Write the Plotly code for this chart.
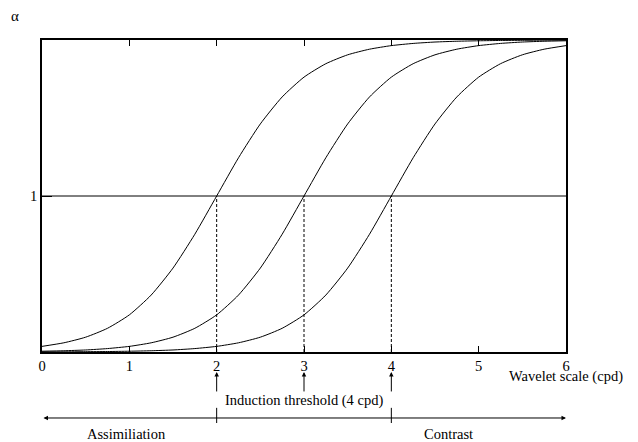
import plotly.graph_objects as go

# ---- data ----
x_vals = [0, 0.25, 0.5, 0.75, 1, 1.25, 1.5, 1.75, 2, 2.25, 2.5, 2.75, 3,
          3.25, 3.5, 3.75, 4, 4.25, 4.5, 4.75, 5, 5.25, 5.5, 5.75, 6]

curve_2cpd = [0.036, 0.059, 0.095, 0.152, 0.238, 0.365, 0.538, 0.755, 1.0,
              1.245, 1.462, 1.635, 1.762, 1.848, 1.905, 1.941, 1.964, 1.978,
              1.987, 1.992, 1.995, 1.997, 1.998, 1.999, 1.999]
curve_3cpd = [0.005, 0.008, 0.013, 0.022, 0.036, 0.059, 0.095, 0.152, 0.238,
              0.365, 0.538, 0.755, 1.0, 1.245, 1.462, 1.635, 1.762, 1.848,
              1.905, 1.941, 1.964, 1.978, 1.987, 1.992, 1.995]
curve_4cpd = [0.001, 0.001, 0.002, 0.003, 0.005, 0.008, 0.013, 0.022, 0.036,
              0.059, 0.095, 0.152, 0.238, 0.365, 0.538, 0.755, 1.0, 1.245,
              1.462, 1.635, 1.762, 1.848, 1.905, 1.941, 1.964]

thresholds = [2, 3, 4]
unity_level = 1
x_ticks = [0, 1, 2, 3, 4, 5, 6]
y_ticks = [1]
x_range = [0, 6]
y_range = [0, 2]

FONT = "Liberation Serif, Times New Roman, serif"
FS = 14.5

fig = go.Figure()

for ys in (curve_2cpd, curve_3cpd, curve_4cpd):
    fig.add_trace(go.Scatter(x=x_vals, y=ys, mode="lines",
                             line=dict(color="black", width=1, shape="spline", smoothing=0.6),
                             showlegend=False, hoverinfo="skip"))

# horizontal line at alpha = 1
fig.add_trace(go.Scatter(x=x_range, y=[unity_level, unity_level], mode="lines",
                         line=dict(color="black", width=1), showlegend=False, hoverinfo="skip"))

# dashed verticals
for t in thresholds:
    fig.add_trace(go.Scatter(x=[t, t], y=[0, unity_level], mode="lines",
                             line=dict(color="black", width=1, dash="3px,2px"),
                             showlegend=False, hoverinfo="skip"))


def label(text, x, y, xref="x", size=FS):
    return dict(x=x, y=y, xref=xref, yref="paper", showarrow=False, text=text,
                xanchor="center", yanchor="middle",
                font=dict(family=FONT, size=size, color="black"))


annotations = []
# up arrows below the threshold ticks
for t in thresholds:
    annotations.append(dict(x=t, y=-0.064, xref="x", yref="paper", ax=0, ay=21,
                            showarrow=True, arrowhead=2, arrowsize=0.9, arrowwidth=1,
                            arrowcolor="black", text=""))
annotations.append(label("Induction threshold (4 cpd)", 3, -0.157))
# double headed arrow
annotations.append(dict(x=x_range[1], y=-0.2115, xref="x", yref="paper",
                        ax=x_range[0], ay=0, axref="x", ayref="pixel",
                        showarrow=True, arrowhead=2, startarrowhead=2, arrowside="end+start",
                        arrowsize=0.9, startarrowsize=0.9, arrowwidth=1, arrowcolor="black", text=""))
annotations.append(label("Assimiliation", 0.97, -0.263))
annotations.append(label("Contrast", 4.66, -0.263))
annotations.append(label("Wavelet scale (cpd)", 6, -0.080))
annotations.append(label("α", -0.052, 1.078, xref="paper", size=15))

shapes = []
for t in (thresholds[0], thresholds[-1]):
    shapes.append(dict(type="line", xref="x", yref="paper", x0=t, x1=t, y0=-0.179, y1=-0.2276,
                       line=dict(color="black", width=1)))

# page body adds an 8px offset, so margins are reduced accordingly
fig.update_layout(
    width=638, height=442,
    margin=dict(l=34, r=80, t=32, b=98, autoexpand=False),
    paper_bgcolor="white", plot_bgcolor="white",
    font=dict(family=FONT, size=FS, color="black"),
    annotations=annotations, shapes=shapes,
    xaxis=dict(range=x_range, tickvals=x_ticks, ticktext=[str(v) for v in x_ticks],
               ticks="inside", ticklen=6, tickcolor="black", tickwidth=1,
               showline=True, linecolor="black", linewidth=1.5, mirror="ticks",
               showgrid=False, zeroline=False, fixedrange=True),
    yaxis=dict(range=y_range, tickvals=y_ticks, ticktext=[str(v) for v in y_ticks],
               ticks="inside", ticklen=10, tickcolor="black", tickwidth=1,
               showline=True, linecolor="black", linewidth=1.5, mirror=True,
               showgrid=False, zeroline=False, fixedrange=True),
)

fig.write_html("out.html")
